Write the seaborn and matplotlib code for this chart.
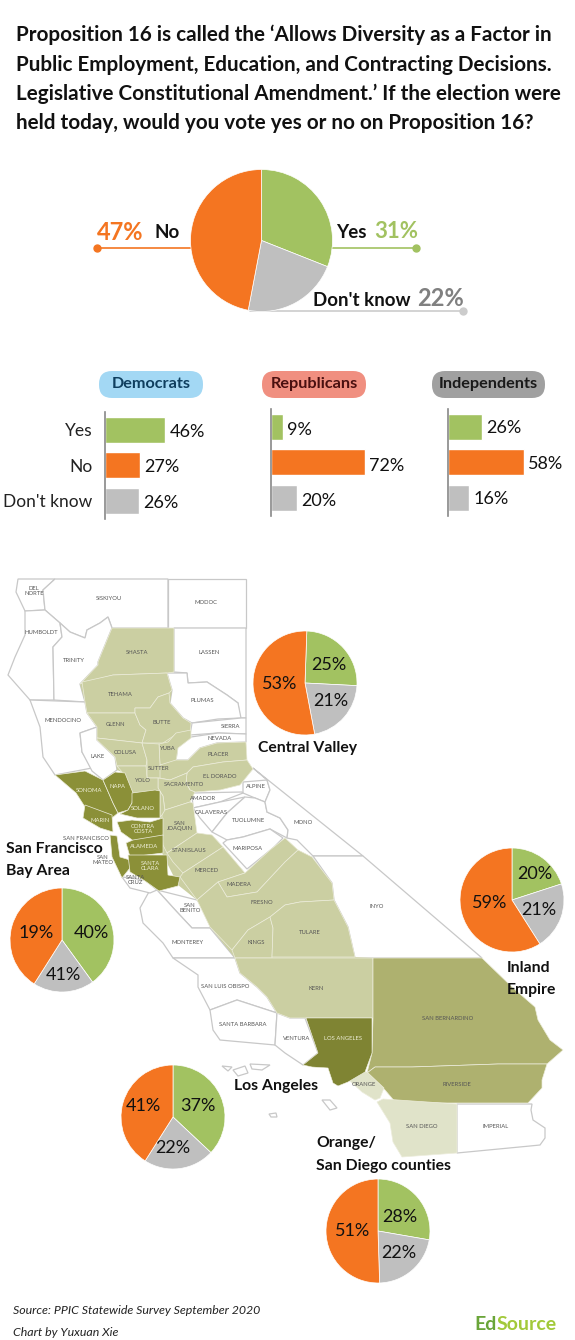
import matplotlib
matplotlib.use("Agg")
import matplotlib.pyplot as plt
import pandas as pd
import seaborn as sns
from matplotlib.patches import Polygon, FancyBboxPatch

sns.set_theme(style="white")
plt.rcParams["font.family"] = ["Lato", "DejaVu Sans"]

# data
answers = ["Yes", "No", "Don't know"]
green, orange, grey = "#A2C261", "#F47521", "#BFBFBF"

state_yes, state_dk, state_no = 31, 22, 47

parties = ["Democrats", "Republicans", "Independents"]
party_yes = [46, 9, 26]
party_no = [27, 72, 58]
party_dk = [26, 20, 16]

regions = ["Central Valley", "San Francisco", "Inland Empire", "Los Angeles", "Orange/San Diego"]
region_yes = [25, 40, 20, 37, 28]
region_dk = [21, 19, 21, 22, 22]
region_no = [53, 41, 59, 41, 51]
# the original graphic prints the Bay Area grey and orange labels the other way round
region_dk_label = [21, 41, 21, 22, 22]
region_no_label = [53, 19, 59, 41, 51]

# map shapes, in picture pixels
light, mid, dark, darkest, pale = "#CBCFA2", "#AEB16F", "#8B9038", "#7F8433", "#E0E3C9"
white_counties = [
    [(18,579),(55,579),(43,590),(45,610),(25,611),(16,592)],
    [(55,579),(168,579),(168,628),(112,628),(108,617),(100,623),(87,630),(85,638),(70,632),(60,623),(45,610),(43,590)],
    [(168,579),(246,579),(246,628),(168,628)],
    [(174,628),(246,628),(246,718),(240,718),(238,703),(227,695),(207,682),(188,683),(187,673),(174,672)],
    [(167,673),(187,673),(188,683),(207,682),(227,695),(238,703),(241,718),(218,719),(192,723),(183,718),(170,703),(172,690)],
    [(192,723),(241,718),(246,718),(246,734),(218,733),(190,735)],
    [(176,760),(178,745),(191,737),(218,733),(246,734),(246,742),(217,743),(200,748),(188,760)],
    [(25,611),(45,610),(60,623),(62,637),(53,647),(54,700),(30,700),(8,675),(15,657),(25,635)],
    [(60,623),(70,632),(85,638),(87,630),(100,623),(108,617),(112,628),(105,645),(98,662),(98,665),(80,684),(85,702),(54,700),(53,647),(62,637)],
    [(30,700),(85,702),(87,713),(97,727),(80,733),(82,752),(92,768),(55,775),(43,757),(40,727)],
    [(97,727),(97,740),(115,757),(117,770),(103,780),(92,771),(82,752),(80,733)],
    [(243,782),(267,780),(270,790),(265,802),(255,798),(243,793)],
    [(192,793),(242,792),(243,793),(220,802),(193,808)],
    [(193,808),(220,802),(245,797),(227,813),(212,832),(200,818)],
    [(245,797),(255,798),(265,802),(267,812),(280,818),(288,830),(287,838),(270,829),(243,837),(227,840),(212,832),(227,813)],
    [(223,843),(227,840),(243,837),(270,829),(283,838),(273,848),(247,869)],
    [(253,768),(363,856),(313,856),(297,840),(287,838),(288,830),(280,818),(267,812),(265,802),(270,790),(267,780)],
    [(313,856),(363,856),(482,958),(355,958),(348,927),(334,900),(332,883)],
    [(157,890),(197,900),(213,920),(210,928),(192,928),(177,912)],
    [(157,890),(177,912),(192,928),(210,928),(235,958),(173,958),(163,943),(143,923),(140,908),(150,890)],
    [(173,958),(235,958),(240,973),(257,987),(267,997),(277,1013),(237,1000),(210,1010),(198,987),(198,975)],
    [(210,1010),(237,1000),(277,1013),(275,1045),(220,1040),(213,1030)],
    [(277,1013),(290,1018),(305,1018),(318,1053),(303,1065),(285,1053),(275,1045)],
    [(122,877),(145,880),(157,890),(150,893),(130,888)],
    [(457,1104),(532,1104),(531,1110),(533,1120),(545,1128),(545,1138),(540,1145),(530,1146),(457,1153)],
    [(222,1066),(232,1067),(228,1071)],
    [(233,1070),(245,1066),(248,1073),(238,1076)],
    [(250,1064),(270,1065),(262,1070),(252,1069)],
    [(269,1114),(276,1113),(277,1117),(271,1117)],
    [(322,1100),(330,1100),(337,1108),(330,1110)],
]
valley_outline = [
    (112,628),(174,628),(174,672),(167,673),(172,690),(170,703),(183,718),(191,723),(191,738),(178,748),(176,760),
    (188,760),(200,748),(217,743),(246,742),(247,760),(253,769),(240,785),(220,790),(195,792),(190,802),(197,833),
    (212,835),(223,847),(245,873),(270,850),(285,838),(298,850),(312,857),(332,883),(334,900),(348,927),(355,957),
    (373,958),(373,1018),(290,1018),(277,1013),(267,997),(257,987),(240,973),(235,958),(210,927),(197,900),(178,885),
    (162,853),(160,817),(155,790),(133,793),(122,772),(117,770),(115,757),(97,740),(97,727),(87,713),(85,702),(80,684),
    (98,665),(105,645),
]
valley_counties = [
    [(112,628),(174,628),(174,672),(167,673),(113,675),(80,684),(98,665),(98,662),(105,645)],
    [(82,682),(113,675),(167,673),(172,690),(169,693),(158,697),(150,708),(135,708),(135,713),(87,713),(85,702)],
    [(87,713),(135,713),(140,725),(146,730),(142,743),(97,738),(97,727)],
    [(135,713),(135,708),(150,708),(158,697),(169,693),(170,703),(183,718),(191,723),(190,735),(175,735),(163,743),(142,743),(146,730),(140,725)],
    [(97,738),(142,743),(147,760),(146,766),(117,766),(115,757),(97,740)],
    [(159,744),(168,742),(176,733),(191,730),(191,738),(178,748),(176,762),(160,765)],
    [(142,743),(159,744),(160,765),(171,768),(160,778),(147,778),(147,760)],
    [(176,760),(188,760),(200,748),(217,743),(246,742),(247,760),(223,762),(193,767),(187,773),(170,780),(160,778),(160,765)],
    [(187,773),(193,767),(223,762),(247,760),(253,769),(240,785),(220,790),(195,792),(190,790),(186,783)],
    [(158,778),(170,780),(187,773),(186,783),(190,790),(195,792),(190,802),(165,810),(163,796),(158,788)],
    [(117,766),(146,766),(147,778),(158,778),(158,788),(163,796),(165,812),(160,817),(160,791),(133,793),(122,772)],
    [(162,815),(165,810),(190,802),(193,803),(197,833),(167,853),(163,845),(162,830)],
    [(167,853),(197,833),(212,835),(223,847),(183,873),(173,862)],
    [(183,873),(223,847),(245,873),(218,882),(197,900),(180,877)],
    [(218,882),(245,873),(270,850),(285,838),(298,850),(285,862),(257,892),(227,897)],
    [(197,900),(218,882),(227,897),(257,892),(285,862),(298,850),(312,857),(332,883),(334,900),(300,902),(285,905),(270,917),(248,930),(232,950),(210,927)],
    [(232,950),(248,930),(270,917),(273,928),(272,958),(235,958)],
    [(272,957),(273,928),(270,917),(285,905),(300,902),(334,900),(348,927),(355,957)],
    [(235,958),(373,958),(373,1018),(290,1018),(277,1013),(267,997),(257,987),(240,973)],
]
bay_counties = [
    [(55,775),(85,771),(103,780),(113,803),(118,813),(112,818),(85,807),(76,793)],
    [(85,805),(112,815),(113,832),(100,828),(83,818)],
    [(103,780),(115,772),(125,773),(133,793),(132,803),(128,810),(118,813),(113,803)],
    [(132,793),(155,790),(160,791),(160,818),(137,818),(120,814),(128,810),(132,803)],
    [(117,822),(132,820),(150,822),(163,818),(163,836),(135,842),(121,832)],
    [(133,840),(163,835),(163,853),(130,857),(126,843)],
    [(110,835),(117,836),(120,857),(130,860),(130,868),(122,878),(112,857)],
    [(128,855),(167,855),(168,875),(180,877),(178,886),(159,891),(145,881),(130,872)],
]
inland_counties = [
    [(373,958),(482,958),(512,987),(535,1007),(538,1020),(550,1040),(563,1050),(547,1064),(498,1064),(412,1067),(375,1067),(367,1073),(372,1053),(373,1018)],
    [(375,1067),(412,1067),(498,1064),(547,1064),(542,1080),(542,1088),(528,1103),(396,1103),(385,1090),(367,1073)],
]
la_county = [(306,1018),(372,1018),(372,1053),(365,1072),(348,1082),(338,1086),(333,1083),(328,1068),(312,1067),(303,1065),(318,1053)]
socal_counties = [
    [(357,1072),(367,1072),(384,1088),(380,1098),(375,1100),(362,1092),(350,1081)],
    [(377,1102),(383,1099),(457,1104),(457,1153),(402,1157),(393,1142),(390,1123)],
]
county_names = [
    ("DEL\nNORTE",34,591),("SISKIYOU",109,599),("MODOC",206,602),("HUMBOLDT",41,633),("TRINITY",74,660),
    ("SHASTA",137,653),("LASSEN",209,653),("TEHAMA",120,694),("PLUMAS",202,701),("MENDOCINO",63,721),
    ("GLENN",116,725),("BUTTE",162,723),("SIERRA",231,726),("NEVADA",220,739),("COLUSA",125,752),
    ("YUBA",167,749),("LAKE",98,756),("PLACER",218,754),("SUTTER",159,768),("EL DORADO",220,776),
    ("YOLO",142,780),("SACRAMENTO",184,785),("ALPINE",256,787),("AMADOR",203,799),("CALAVERAS",211,813),
    ("TUOLUMNE",248,820),("MONO",303,823),("SAN\nJOAQUIN",180,826),("MARIPOSA",248,849),("STANISLAUS",189,850),
    ("MERCED",207,871),("MADERA",239,885),("FRESNO",262,903),("SAN\nBENITO",190,908),("INYO",377,907),
    ("TULARE",310,933),("KINGS",256,943),("MONTEREY",188,943),("KERN",316,988),("SAN LUIS OBISPO",225,987),
    ("SAN BERNARDINO",448,1018),("SANTA BARBARA",243,1024),("VENTURA",297,1039),("ORANGE",364,1085),
    ("RIVERSIDE",457,1085),("SAN DIEGO",422,1127),("IMPERIAL",496,1127),("SAN FRANCISCO",86,838),
    ("SAN\nMATEO",103,860),("SANTA\nCRUZ",135,880),
]
bay_names = [
    ("SONOMA",89,791),("NAPA",117,787),("SOLANO",143,808),("MARIN",100,820),("CONTRA\nCOSTA",143,829),
    ("ALAMEDA",144,847),("SANTA\nCLARA",150,866),("LOS ANGELES",343,1039),
]


fig = plt.figure(figsize=(5.75, 13.4), dpi=100)
page = fig.add_axes([0, 0, 1, 1])
page.set_xlim(0, 575)
page.set_ylim(1340, 0)
page.axis("off")


def px_axes(x0, y0, x1, y1):
    return fig.add_axes([x0 / 575, 1 - y1 / 1340, (x1 - x0) / 575, (y1 - y0) / 1340])


def draw_pie(cx, cy, r, values, start=90):
    ax = px_axes(cx - r, cy - r, cx + r, cy + r)
    ax.pie(values, colors=[green, grey, orange], startangle=start, counterclock=False,
           radius=1, wedgeprops={"linewidth": 0.5, "edgecolor": "white"})
    ax.set_xlim(-1, 1)
    ax.set_ylim(-1, 1)
    ax.patch.set_alpha(0)
    return ax


# headline
title = ["Proposition 16 is called the \u2018Allows Diversity as a Factor in",
         "Public Employment, Education, and Contracting Decisions.",
         "Legislative Constitutional Amendment.\u2019 If the election were",
         "held today, would you vote yes or no on Proposition 16?"]
for line, y in zip(title, [35, 65, 94, 123]):
    page.text(16, y, line, fontsize=14.9, fontweight="bold", color="#111111", va="center")

# statewide pie with leader lines
draw_pie(261.5, 240.5, 71, [state_yes, state_dk, state_no])
page.plot([97, 192], [248, 248], color=orange, lw=1.2)
page.plot([97], [248], "o", color=orange, ms=5)
page.plot([331, 416], [248, 248], color=green, lw=1.2)
page.plot([416], [248], "o", color=green, ms=5)
page.plot([250, 463], [311, 311], color="#CCCCCC", lw=1.2)
page.plot([463], [311], "o", color="#CCCCCC", ms=5)
page.text(97, 232, f"{state_no}%", color=orange, fontsize=17, fontweight="bold", va="center")
page.text(155, 233, "No", color="#111111", fontsize=13.5, fontweight="bold", va="center")
page.text(336, 233, "Yes", color="#111111", fontsize=13.5, fontweight="bold", va="center")
page.text(374, 232, f"{state_yes}%", color=green, fontsize=16, fontweight="bold", va="center")
page.text(313, 300, "Don't know", color="#111111", fontsize=13.5, fontweight="bold", va="center")
page.text(417, 298, f"{state_dk}%", color="#808080", fontsize=17, fontweight="bold", va="center")

# party bars
pill_spans = [(99, 203), (262, 366), (432, 545)]
pill_colors = ["#A3D8F4", "#F08F80", "#A0A0A0"]
pill_text = ["#0F3F5F", "#4A1010", "#1A1A1A"]
bar_lefts = [105, 271, 448]
bar_tops = [412, 409, 409]
label_drop = [1.5, 2.5, 1]
px_per_pct = 1.31
for i, party in enumerate(parties):
    x0, x1 = pill_spans[i]
    page.add_patch(FancyBboxPatch((x0 + 13, 371 + 13), x1 - x0 - 26, 1, boxstyle="round,pad=13",
                                  fc=pill_colors[i], ec="none"))
    page.text((x0 + x1) / 2, 384, party, color=pill_text[i], fontsize=11.7, fontweight="bold",
              ha="center", va="center")

    df = pd.DataFrame({"answer": answers, "pct": [party_yes[i], party_no[i], party_dk[i]]})
    left, top = bar_lefts[i], bar_tops[i]
    ax = px_axes(left, top, left + 100 * px_per_pct, top + 106.5)
    sns.barplot(data=df, x="pct", y="answer", hue="answer", palette=[green, orange, grey],
                order=answers, width=0.72, saturation=1, legend=False, ax=ax)
    ax.set_xlim(0, 100)
    ax.set_xlabel("")
    ax.set_ylabel("")
    ax.patch.set_alpha(0)
    ax.set_xticks([])
    sns.despine(ax=ax, left=False, bottom=True)
    ax.spines["left"].set_color("#888888")
    ax.spines["left"].set_linewidth(1.2)
    ax.tick_params(axis="y", length=0, pad=9, labelsize=12.5, labelcolor="#222222")
    if i > 0:
        ax.set_yticks([])
    for c in ax.containers:
        for t in ax.bar_label(c, fmt="%g%%", padding=3, fontsize=13, color="#111111"):
            t.xyann = (3, -label_drop[i])

# map
for pts in white_counties:
    page.add_patch(Polygon(pts, fc="white", ec="#C8C8C8", lw=0.9, zorder=1))
page.add_patch(Polygon(valley_outline, fc=light, ec="none", zorder=2))
for group, col in [(valley_counties, light), (inland_counties, mid), (socal_counties, pale), (bay_counties, dark)]:
    for pts in group:
        page.add_patch(Polygon(pts, fc=col, ec="#EDEDDC", lw=0.5, zorder=2))
page.add_patch(Polygon(la_county, fc=darkest, ec="#F2F2E2", lw=0.4, zorder=2))
for name, x, y in county_names:
    page.text(x, y, name, fontsize=4.2, color="#555555", ha="center", va="center", linespacing=1.0, zorder=3)
for name, x, y in bay_names:
    page.text(x, y, name, fontsize=4.2, color="#EFEFD8", ha="center", va="center", linespacing=1.0, zorder=3)

# region pies
pie_centers = [(305, 683), (62, 940), (512, 900), (173, 1117), (378, 1231)]
pie_starts = [88, 90, 90, 90, 90]
yes_offsets = [(24, -18), (29, -7), (23, -26), (25, -11), (22, -14)]
dk_offsets = [(26, 18), (1, 35), (27, 10), (0, 31), (21, 22)]
no_offsets = [(-25, 1), (-26, -7), (-22, 3), (-30, -11), (-25, 0)]
for i in range(len(regions)):
    cx, cy = pie_centers[i]
    draw_pie(cx, cy, 52, [region_yes[i], region_dk[i], region_no[i]], start=pie_starts[i])
    for val, off in [(region_yes[i], yes_offsets[i]), (region_dk_label[i], dk_offsets[i]), (region_no_label[i], no_offsets[i])]:
        fig.text((cx + off[0]) / 575, 1 - (cy + off[1]) / 1340, f"{val}%", fontsize=13, color="#111111",
                 ha="center", va="center", zorder=10)

# region names
region_labels = [("Central Valley", 258, 748), ("San Francisco", 6, 849), ("Bay Area", 6, 871), ("Inland", 507, 968),
                 ("Empire", 507, 990), ("Los Angeles", 234, 1086), ("Orange/", 316, 1143), ("San Diego counties", 316, 1166)]
for name, x, y in region_labels:
    fig.text(x / 575, 1 - y / 1340, name, fontsize=11.3, fontweight="bold", color="#111111", va="center", zorder=10)

# footer
page.text(13, 1310, "Source: PPIC Statewide Survey September 2020", fontsize=8.9, style="italic", color="#222222", va="center")
page.text(13, 1332, "Chart by Yuxuan Xie", fontsize=8.9, style="italic", color="#222222", va="center")
page.text(474, 1325, "Ed", fontsize=14, fontweight="bold", color="#6AA539", va="center")
page.text(497, 1325, "Source", fontsize=14, fontweight="bold", color="#A2C93A", va="center")

fig.savefig("out.png", dpi=100, facecolor="white")
